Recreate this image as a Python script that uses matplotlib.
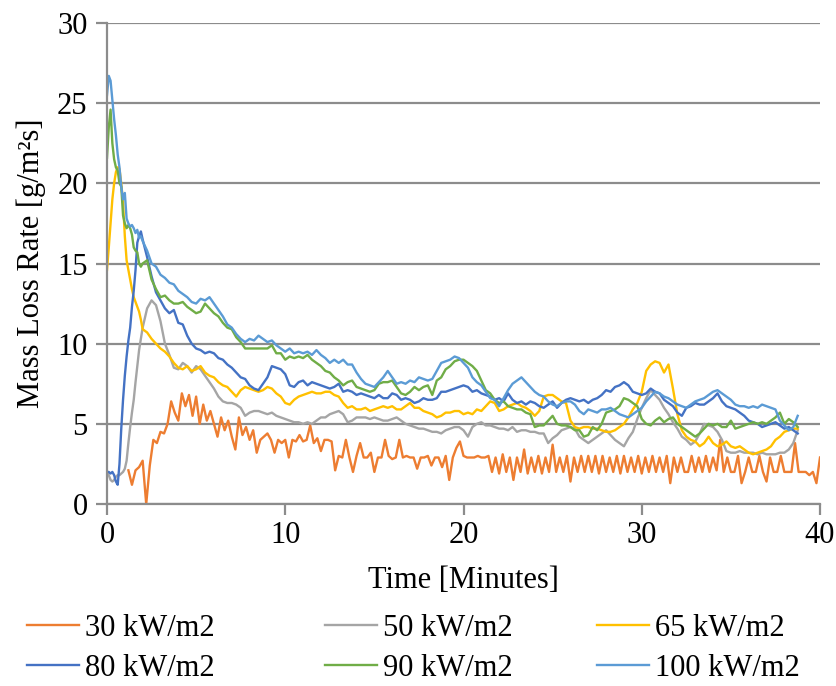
import numpy as np
import matplotlib
matplotlib.use("Agg")
import matplotlib.pyplot as plt
from matplotlib.lines import Line2D

plt.rcParams["font.family"] = ["Liberation Serif", "DejaVu Serif"]

# Sampling grid (minutes): fine steps during ignition, then quarter-minute steps
minutes = np.round(np.concatenate([np.arange(0.0, 2.0, 0.1),
                                   np.arange(2.0, 38.76, 0.25)]), 2)
# The 30 kW/m2 test was logged on its own grid
minutes_30 = np.round(np.arange(1.2, 40.01, 0.2), 2)

labels = ["30 kW/m2", "50 kW/m2", "65 kW/m2", "80 kW/m2", "90 kW/m2", "100 kW/m2"]

mlr_30 = [
    2.1, 1.2, 2.1, 2.3, 2.7, 0.0, 2.4, 4.0, 3.8, 4.5,
    4.4, 5.0, 6.4, 5.7, 5.2, 6.9, 6.1, 6.8, 5.5, 6.7,
    5.0, 6.2, 5.2, 5.8, 5.0, 4.2, 5.4, 4.6, 5.2, 4.2,
    3.4, 5.4, 4.3, 4.8, 4.0, 4.6, 3.2, 4.0, 4.2, 4.4,
    4.0, 3.2, 4.0, 3.8, 4.0, 2.9, 4.0, 3.9, 4.3, 3.9,
    4.0, 4.9, 3.8, 4.1, 3.3, 4.0, 4.0, 3.9, 2.1, 3.0,
    2.9, 4.0, 2.9, 2.0, 3.0, 3.8, 2.9, 2.9, 3.2, 2.0,
    2.9, 2.9, 4.0, 3.0, 2.8, 2.9, 4.0, 2.9, 3.0, 2.9,
    2.9, 2.2, 2.9, 2.9, 3.0, 2.4, 2.9, 2.9, 2.3, 3.0,
    1.5, 2.9, 3.5, 3.9, 3.0, 2.9, 2.9, 2.9, 3.0, 2.9,
    2.9, 3.0, 2.0, 2.9, 1.9, 3.1, 2.0, 2.9, 1.5, 2.9,
    2.0, 3.4, 1.9, 2.9, 2.0, 3.0, 1.9, 2.9, 2.0, 3.7,
    2.0, 2.9, 2.0, 3.0, 1.4, 2.9, 2.0, 3.0, 2.0, 3.0,
    2.0, 3.0, 1.9, 3.0, 2.0, 2.9, 2.0, 3.0, 1.9, 3.0,
    2.0, 2.9, 2.0, 3.0, 1.9, 2.9, 2.0, 3.0, 2.0, 2.9,
    2.0, 3.0, 1.3, 2.9, 2.0, 2.9, 2.0, 2.0, 3.0, 2.0,
    2.9, 2.0, 3.0, 2.0, 2.9, 2.1, 4.0, 2.0, 2.9, 2.0,
    2.0, 3.0, 1.3, 2.0, 2.9, 2.0, 2.0, 3.0, 2.0, 1.4,
    2.9, 2.0, 2.0, 3.0, 2.0, 2.0, 2.0, 3.8, 2.0, 2.0,
    2.0, 1.8, 2.0, 1.3, 2.9,
]

mlr_50 = [
    2.0, 1.8, 1.5, 1.4, 1.5, 1.7, 1.8, 1.8, 1.9, 2.0,
    2.2, 2.7, 3.8, 4.8, 5.7, 6.5, 7.6, 8.6, 9.6, 10.3,
    11.0, 12.2, 12.7, 12.4, 11.4, 10.0, 9.3, 8.5,
    8.4, 8.8, 8.6, 8.2, 8.6, 8.4, 8.0, 7.6,
    7.2, 6.7, 6.4, 6.3, 6.3, 6.2, 6.0, 5.5,
    5.7, 5.8, 5.8, 5.7, 5.6, 5.7, 5.5, 5.4,
    5.3, 5.2, 5.1, 5.1, 5.0, 5.1, 5.0, 5.2,
    5.4, 5.4, 5.6, 5.7, 5.8, 5.6, 5.1, 5.2,
    5.4, 5.4, 5.4, 5.3, 5.4, 5.3, 5.2, 5.2,
    5.3, 5.4, 5.2, 5.0, 4.9, 4.8, 4.7, 4.7,
    4.6, 4.5, 4.5, 4.4, 4.6, 4.7, 4.8, 4.8,
    4.6, 4.2, 4.8, 5.0, 5.1, 4.9, 4.9, 4.8,
    4.7, 4.7, 4.6, 4.8, 4.5, 4.6, 4.6, 4.5,
    4.5, 4.4, 4.4, 3.8, 4.1, 4.3, 4.6, 4.7,
    4.8, 4.7, 4.2, 4.0, 3.8, 4.0, 4.2, 4.4,
    4.6, 4.3, 4.0, 3.8, 3.6, 4.1, 4.5, 5.3,
    6.0, 6.6, 7.1, 6.8, 6.5, 6.0, 5.6, 5.1,
    4.7, 4.2, 4.0, 3.7, 3.9, 4.4, 5.0, 4.9,
    4.8, 4.5, 4.0, 3.3, 3.2, 3.2, 3.3, 3.2,
    3.2, 3.2, 3.1, 3.2, 3.1, 3.1, 3.1, 3.2,
    3.2, 3.4, 3.8, 4.6,
]

mlr_65 = [
    14.6, 16.0, 17.5, 19.0, 20.0, 20.7, 21.0, 20.9, 20.0, 18.8,
    16.7, 15.2, 14.6, 14.0, 13.4, 12.9, 12.6, 12.3, 12.0, 11.5,
    10.9, 10.7, 10.3, 10.0, 9.7, 9.5, 9.2, 8.8,
    8.5, 8.4, 8.6, 8.3, 8.4, 8.6, 8.2, 8.0,
    7.9, 7.6, 7.4, 7.3, 7.0, 6.7, 7.1, 7.3,
    7.2, 7.1, 7.0, 7.1, 7.3, 7.2, 6.9, 6.7,
    6.3, 6.2, 6.5, 6.7, 6.8, 6.9, 7.0, 6.9,
    6.9, 7.0, 7.0, 6.8, 6.7, 6.3, 6.0, 6.1,
    5.9, 5.9, 6.0, 5.8, 5.9, 6.0, 6.1, 6.0,
    6.1, 5.9, 5.9, 6.1, 6.3, 6.0, 6.0, 5.8,
    5.7, 5.6, 5.4, 5.5, 5.7, 5.7, 5.8, 5.8,
    5.6, 5.7, 5.6, 5.9, 5.8, 6.1, 6.4, 6.3,
    5.8, 5.9, 6.1, 6.2, 6.3, 6.1, 6.0, 5.8,
    5.5, 5.8, 6.7, 6.8, 6.8, 6.6, 6.4, 6.3,
    5.2, 4.8, 4.7, 4.8, 4.8, 4.7, 4.7, 4.6,
    4.5, 4.5, 4.6, 4.8, 5.0, 5.4, 5.9, 6.3,
    7.0, 8.3, 8.7, 8.9, 8.8, 8.2, 8.7, 7.2,
    5.6, 4.6, 4.2, 4.0, 3.9, 3.6, 3.8, 4.2,
    3.8, 3.6, 3.7, 3.9, 3.6, 3.5, 3.6, 3.4,
    3.2, 3.1, 3.2, 3.3, 3.4, 3.6, 4.0, 4.2,
    4.5, 4.6, 4.7, 4.7,
]

mlr_80 = [
    2.0, 2.0, 1.9, 2.0, 1.8, 1.4, 1.2, 2.5, 4.7, 6.5,
    8.0, 9.2, 10.2, 11.0, 12.3, 13.3, 14.6, 16.3, 16.7, 17.0,
    16.5, 15.4, 14.2, 13.2, 12.7, 12.2, 11.9, 12.1,
    11.3, 11.2, 10.5, 10.0, 9.7, 9.6, 9.4, 9.5,
    9.4, 9.1, 9.0, 8.7, 8.5, 8.2, 7.9, 7.8,
    7.4, 7.2, 7.1, 7.5, 7.9, 8.6, 8.5, 8.4,
    8.1, 7.4, 7.3, 7.6, 7.7, 7.4, 7.6, 7.5,
    7.4, 7.3, 7.2, 7.3, 7.5, 7.0, 7.1, 7.0,
    6.8, 6.9, 6.8, 6.7, 6.6, 6.8, 6.6, 6.6,
    6.9, 6.8, 6.5, 6.6, 6.5, 6.3, 6.4, 6.6,
    6.5, 6.5, 6.6, 7.0, 7.0, 7.1, 7.2, 7.3,
    7.4, 7.3, 7.0, 7.1, 6.9, 6.8, 6.7, 6.5,
    6.6, 6.4, 6.9, 6.5, 6.3, 6.4, 6.2, 6.4,
    6.3, 6.1, 6.0, 6.2, 6.4, 6.0, 6.3, 6.5,
    6.6, 6.5, 6.4, 6.5, 6.3, 6.5, 6.6, 6.8,
    7.1, 7.0, 7.3, 7.4, 7.6, 7.4, 7.0, 6.9,
    6.8, 6.9, 7.2, 7.0, 6.9, 6.5, 6.3, 6.1,
    5.7, 5.5, 6.0, 6.1, 6.3, 6.2, 6.2, 6.4,
    6.6, 6.9, 6.4, 6.1, 6.0, 5.9, 5.7, 5.5,
    5.2, 5.1, 5.0, 4.8, 4.9, 5.0, 5.1, 4.9,
    4.7, 4.8, 4.6, 4.4,
]

mlr_90 = [
    21.6, 23.5, 24.6, 22.5, 21.5, 21.0, 20.8, 20.0, 19.8, 18.0,
    17.5, 17.2, 17.4, 17.2, 16.8, 16.0, 15.8, 15.7, 15.0, 14.8,
    15.0, 15.2, 14.0, 13.4, 12.9, 13.0, 12.7, 12.5,
    12.5, 12.6, 12.3, 12.1, 11.9, 12.0, 12.5, 12.2,
    11.9, 11.7, 11.3, 11.0, 10.9, 10.4, 10.1, 9.7,
    9.7, 9.7, 9.7, 9.7, 9.7, 9.9, 9.4, 9.4,
    9.0, 9.2, 9.1, 9.2, 9.1, 9.3, 9.0, 8.8,
    8.6, 8.3, 8.2, 7.9, 7.7, 7.4, 7.6, 7.7,
    7.3, 7.2, 7.1, 7.0, 7.1, 7.5, 7.6, 7.6,
    7.7, 7.3, 6.9, 6.8, 7.0, 7.3, 7.1, 7.3,
    7.4, 6.8, 7.7, 7.9, 8.4, 8.6, 8.9, 9.0,
    9.0, 8.8, 8.6, 8.3, 7.7, 7.1, 6.9, 6.5,
    6.3, 6.4, 6.1, 6.0, 5.9, 5.9, 5.7, 5.6,
    4.8, 4.9, 4.9, 5.2, 5.5, 5.0, 4.9, 4.9,
    4.8, 4.6, 4.6, 4.2, 4.3, 4.8, 4.6, 5.0,
    5.7, 5.8, 5.9, 6.1, 6.6, 6.5, 6.3, 6.1,
    5.3, 5.0, 4.9, 5.2, 5.4, 5.1, 5.3, 5.4,
    5.0, 4.8, 4.6, 4.4, 4.2, 4.4, 4.7, 5.0,
    4.9, 5.0, 4.8, 4.8, 5.2, 4.7, 4.8, 4.9,
    5.0, 5.1, 5.0, 5.1, 5.0, 5.2, 5.4, 5.7,
    5.0, 5.3, 5.1, 4.8,
]

mlr_100 = [
    25.5, 26.7, 26.4, 25.2, 24.0, 23.0, 21.8, 21.0, 19.8, 19.0,
    19.4, 17.8, 17.5, 17.3, 17.4, 17.2, 16.9, 17.1, 16.6, 16.7,
    16.4, 15.8, 15.0, 14.8, 14.3, 14.1, 13.8, 13.7,
    13.3, 13.1, 12.9, 12.6, 12.5, 12.8, 12.7, 12.9,
    12.5, 12.1, 11.7, 11.2, 11.0, 10.6, 10.3, 10.1,
    10.3, 10.2, 10.5, 10.3, 10.1, 10.2, 9.9, 9.7,
    9.5, 9.7, 9.4, 9.5, 9.4, 9.5, 9.3, 9.6,
    9.3, 9.1, 8.8, 9.0, 8.8, 9.0, 8.7, 8.7,
    8.2, 7.8, 7.5, 7.4, 7.3, 7.6, 7.9, 8.3,
    7.9, 7.5, 7.6, 7.5, 7.7, 7.6, 7.9, 7.8,
    7.7, 7.8, 8.3, 8.8, 8.9, 9.0, 9.2, 9.1,
    8.8, 8.5, 7.9, 7.6, 7.4, 7.0, 6.6, 6.5,
    6.1, 6.6, 7.1, 7.5, 7.7, 7.9, 7.6, 7.3,
    7.0, 6.8, 6.7, 6.4, 6.2, 6.1, 6.3, 6.4,
    6.4, 6.2, 5.8, 5.6, 5.9, 5.8, 5.7, 5.9,
    5.9, 6.0, 5.8, 5.6, 5.5, 5.4, 5.6, 5.8,
    6.0, 6.4, 6.7, 7.0, 6.9, 6.7, 6.6, 6.4,
    6.2, 6.1, 6.0, 6.2, 6.4, 6.5, 6.6, 6.8,
    7.0, 7.1, 6.9, 6.7, 6.5, 6.2, 6.1, 6.1,
    6.0, 6.1, 6.0, 6.2, 6.1, 6.0, 5.9, 5.2,
    4.9, 4.6, 4.8, 5.5,
]

colors = ["#ED7D31", "#A5A5A5", "#FFC000", "#4472C4", "#70AD47", "#5B9BD5"]
series = [(minutes_30, mlr_30), (minutes, mlr_50), (minutes, mlr_65),
          (minutes, mlr_80), (minutes, mlr_90), (minutes, mlr_100)]

W, H = 837, 686
fig = plt.figure(figsize=(W / 100, H / 100), dpi=100)
ax = fig.add_axes([107 / W, 1 - 504 / H, (820 - 107) / W, (504 - 23) / H])

grid_col = "#8C8C8C"
for (t, v), c, lab in zip(series, colors, labels):
    ax.plot(t, v, color=c, lw=1.7, label=lab, solid_joinstyle="round")

ax.set_xlim(0, 40)
ax.set_ylim(0, 30)
ax.set_xticks(range(0, 41, 10))
ax.set_yticks(range(0, 31, 5))
ax.yaxis.grid(True, color=grid_col, lw=1.6)
ax.set_axisbelow(True)
for s in ("top", "right"):
    ax.spines[s].set_visible(False)
for s in ("left", "bottom"):
    ax.spines[s].set_color(grid_col)
    ax.spines[s].set_linewidth(1.6)
ax.tick_params(axis="both", direction="out", length=8, width=1.6,
               color=grid_col, labelsize=22, labelcolor="black")
ax.tick_params(axis="y", pad=6)
ax.tick_params(axis="x", pad=4)

ax.set_xlabel("Time [Minutes]", fontsize=22, labelpad=12)
ax.set_ylabel("Mass Loss Rate [g/m²s]", fontsize=22, labelpad=8)

# Legend laid out in three columns, two rows
handles = [Line2D([], [], color=c, lw=1.7) for c in colors]
col_x = [27, 325, 597]
for i, x0 in enumerate(col_x):
    fig.legend(handles=[handles[i], handles[i + 3]],
               labels=[labels[i], labels[i + 3]],
               loc="upper left", bbox_to_anchor=(x0 / W, 1 - 614 / H),
               frameon=False, fontsize=22, handlelength=1.7,
               handletextpad=0.2, labelspacing=0.36,
               borderpad=0, borderaxespad=0)

fig.savefig("out.png", dpi=100)
